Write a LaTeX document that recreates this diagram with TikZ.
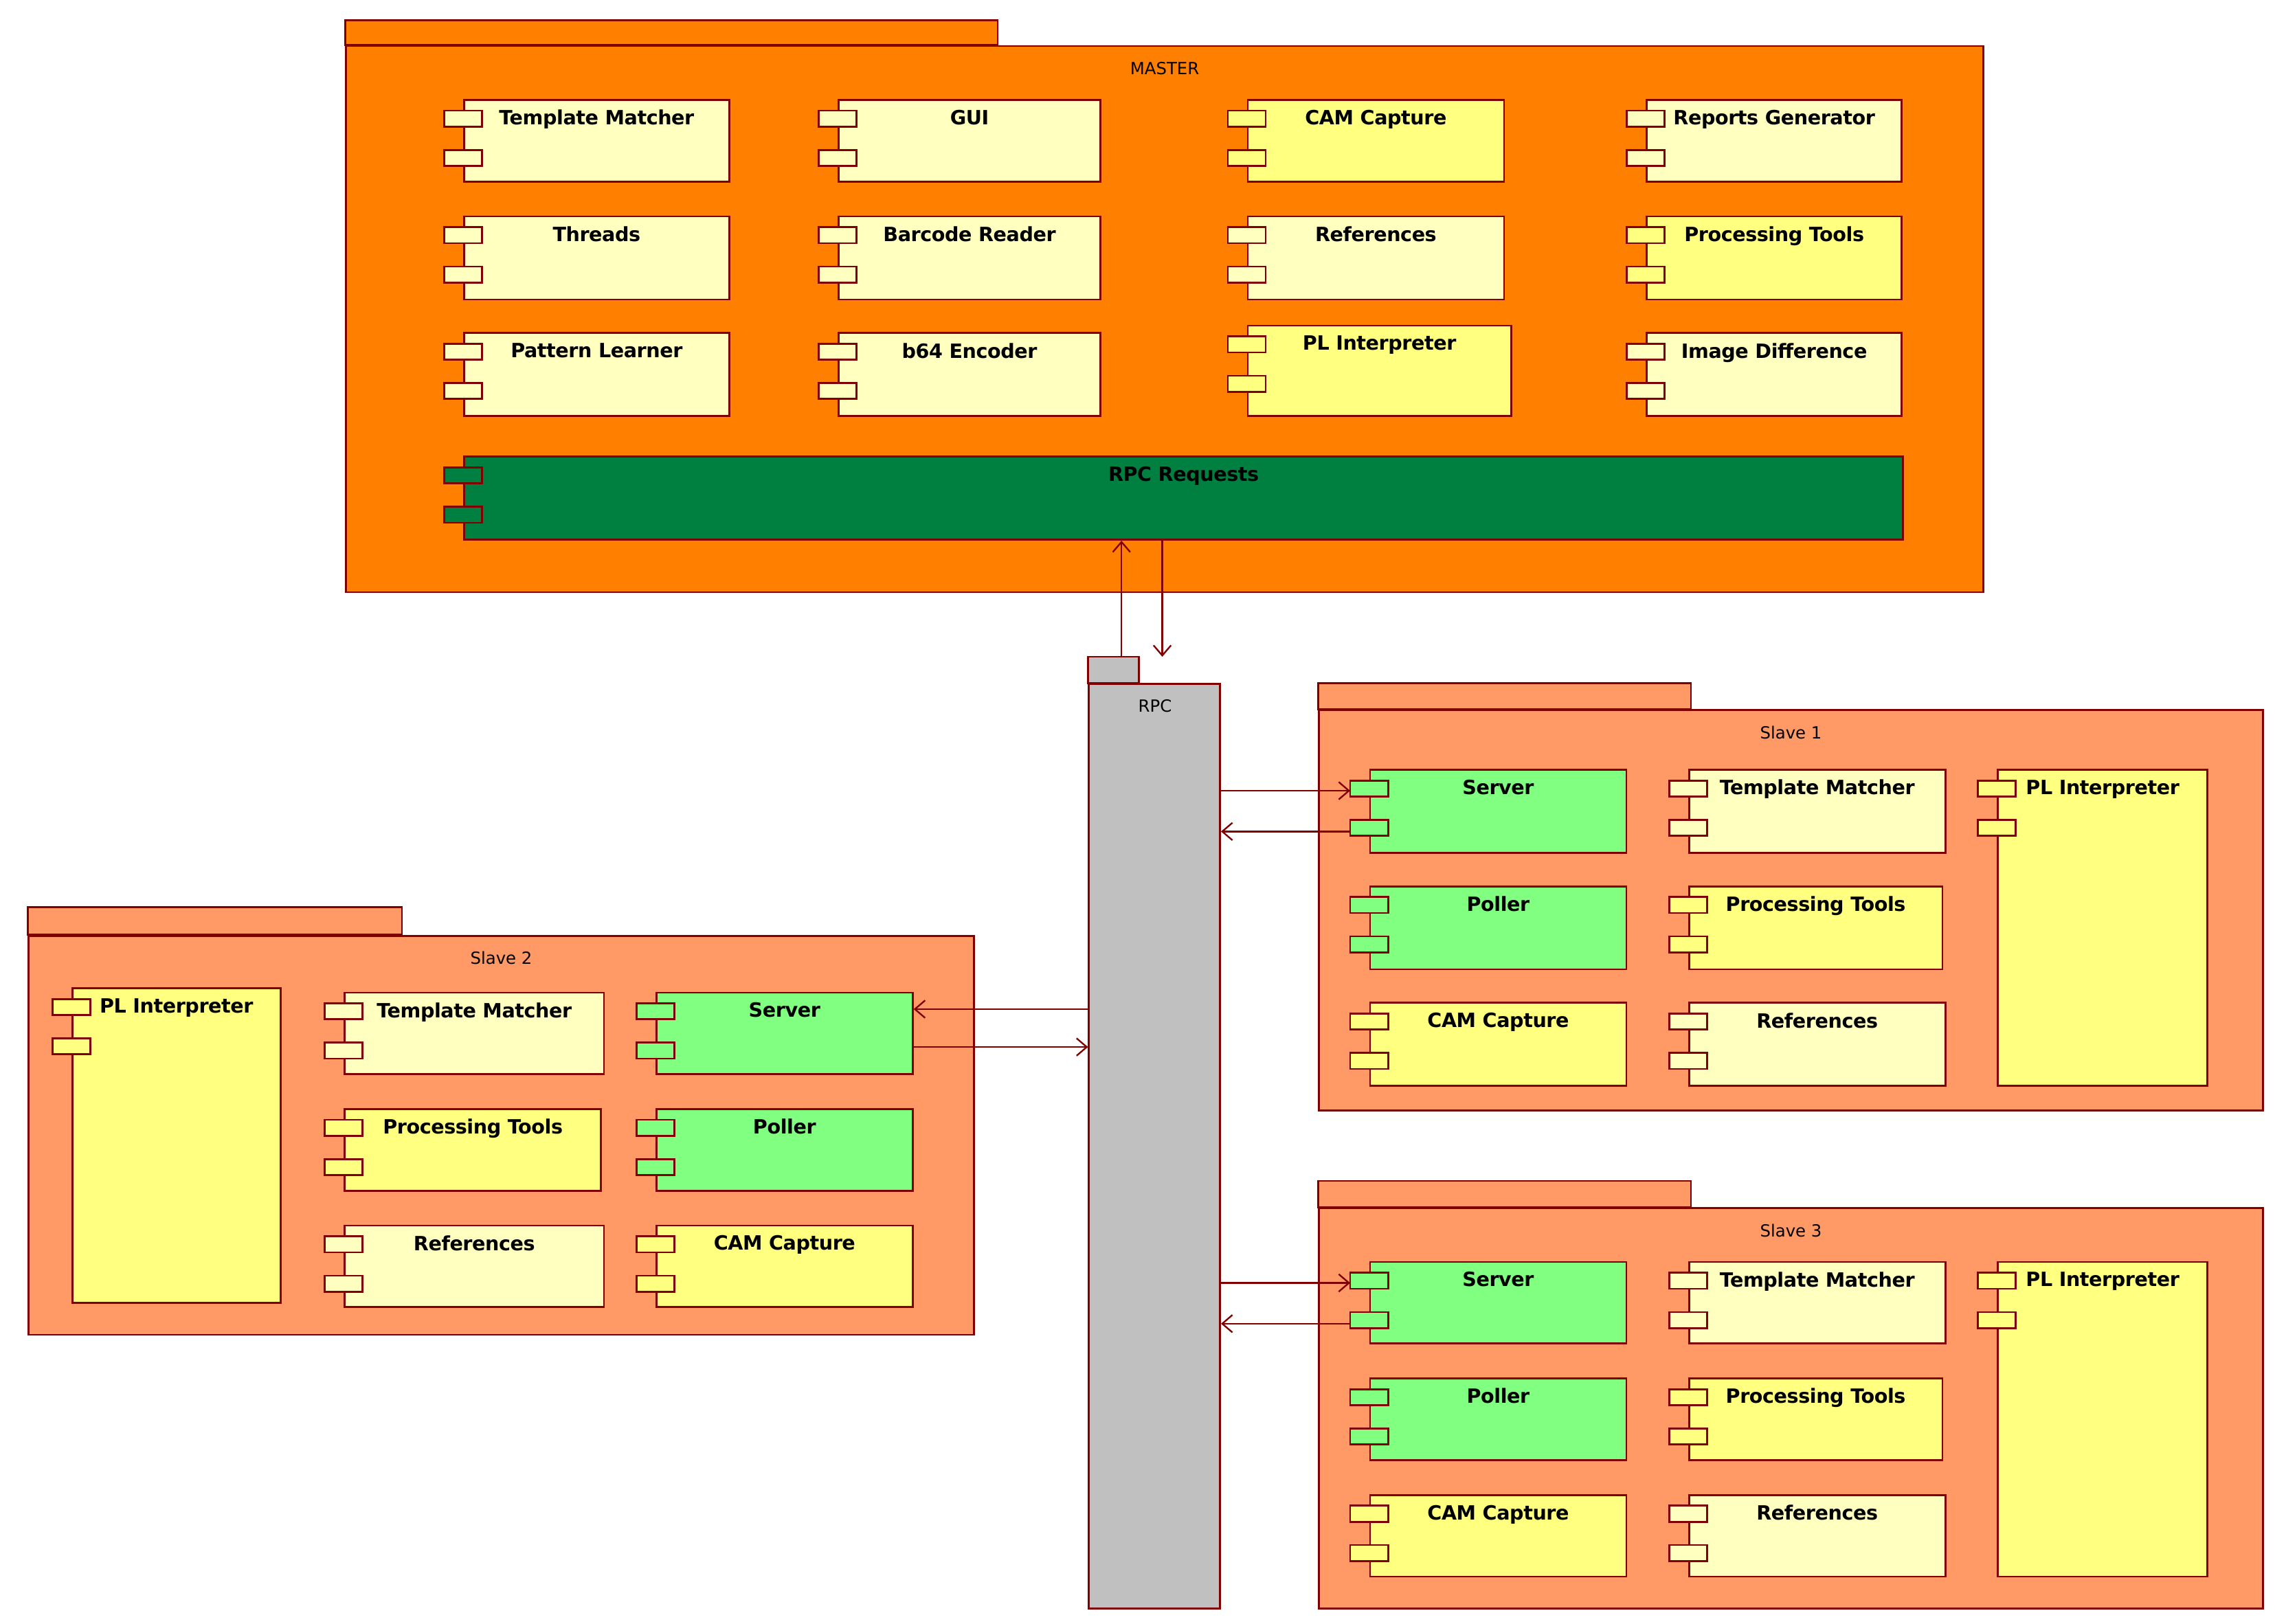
\documentclass[tikz,border=0pt]{standalone}
\usepackage{fontspec}
\setmainfont{DejaVu Sans}
\usetikzlibrary{arrows.meta}
\definecolor{bord}{HTML}{800000}
\definecolor{morange}{HTML}{FF8000}
\definecolor{lightyel}{HTML}{FFFFC0}
\definecolor{yel}{HTML}{FFFF80}
\definecolor{grn}{HTML}{80FF80}
\definecolor{dgrn}{HTML}{008040}
\definecolor{sl}{HTML}{FF9966}
\definecolor{gry}{HTML}{C0C0C0}
\tikzset{
  ln/.style={draw=bord,line width=1.3pt},
  pkglbl/.style={font=\fontsize{11.5}{12}\selectfont,anchor=center},
  lbl/.style={font=\bfseries\fontsize{13.5}{14}\selectfont\addfontfeatures{LetterSpace=-1.5}},
  arr/.style={draw=bord,line width=1.1pt,-{Straight Barb[length=7pt,width=12pt,line width=1.1pt]}},
}
\newcommand\comp[7]{%
  \node[ln,fill=#6,anchor=north west,inner sep=0pt,
    minimum width={(#4-#1-13)*1pt},minimum height={(#5-#2)*1pt},
    label={[lbl,anchor=north,yshift=-4pt]north:#7}] (#3) at ({#1+13},#2) {};
  \draw[ln,fill=#6] (#1,{#2+8}) rectangle ({#1+26},{#2+19});
  \draw[ln,fill=#6] (#1,{#2+35}) rectangle ({#1+26},{#2+46});
}
% name, x1, tabtop, tabright, bodytop, x2, y2, fill, label, labelx
\newcommand\pkg[9]{%
  \draw[ln,fill=#8] (#2,#3) rectangle (#4,#5);
  \node[ln,fill=#8,anchor=north west,inner sep=0pt,
    minimum width={(#6-#2)*1pt},minimum height={(#7-#5)*1pt}] (#1) at (#2,#5) {};
  \node[pkglbl] (#1lbl) at ($(#1.north)+(0,-16pt)$) {#9};
}
\usetikzlibrary{calc}
\begin{document}
\begin{tikzpicture}[x=1pt,y=-1pt]
\useasboundingbox (0,0) rectangle (1562,1115);
% MASTER
\pkg{master}{237}{14}{685}{31}{1361}{406}{morange}{MASTER}
\comp{305}{68}{m1}{500}{124}{lightyel}{Template Matcher}
\comp{562}{68}{m2}{755}{124}{lightyel}{GUI}
\comp{843}{68}{m3}{1032}{124}{yel}{CAM Capture}
\comp{1117}{68}{m4}{1305}{124}{lightyel}{Reports Generator}
\comp{305}{148}{m5}{500}{205}{lightyel}{Threads}
\comp{562}{148}{m6}{755}{205}{lightyel}{Barcode Reader}
\comp{843}{148}{m7}{1032}{205}{lightyel}{References}
\comp{1117}{148}{m8}{1305}{205}{yel}{Processing Tools}
\comp{305}{228}{m9}{500}{285}{lightyel}{Pattern Learner}
\comp{562}{228}{m10}{755}{285}{lightyel}{b64 Encoder}
\comp{843}{223}{m11}{1037}{285}{yel}{PL Interpreter}
\comp{1117}{228}{m12}{1305}{285}{lightyel}{Image Difference}
\comp{305}{313}{rpcreq}{1306}{370}{dgrn}{RPC Requests}
% RPC
\draw[ln,fill=gry] (747,451) rectangle (782,469);
\node[ln,fill=gry,anchor=north west,inner sep=0pt,minimum width=90pt,minimum height=635pt] (rpc) at (747,469) {};
\node[pkglbl] (rpclbl) at (793,485) {RPC};
\coordinate (up1) at (770,451);
\coordinate (dn1) at (798,451);
\draw[arr] (up1) -- (up1 |- rpcreq.south);
\draw[arr] (dn1 |- rpcreq.south) -- (dn1);
% Slave 1
\pkg{s1}{905}{469}{1161}{487}{1553}{762}{sl}{Slave 1}
\comp{927}{528}{s1srv}{1116}{585}{grn}{Server}
\comp{1146}{528}{s1tm}{1335}{585}{lightyel}{Template Matcher}
\comp{1358}{528}{s1pl}{1515}{745}{yel}{PL Interpreter}
\comp{927}{608}{s1pol}{1116}{665}{grn}{Poller}
\comp{1146}{608}{s1pt}{1333}{665}{yel}{Processing Tools}
\comp{927}{688}{s1cam}{1116}{745}{yel}{CAM Capture}
\comp{1146}{688}{s1ref}{1335}{745}{lightyel}{References}
\coordinate (s1a) at ([yshift=-15pt]s1srv.north west);
\coordinate (s1b) at ([yshift=-43pt]s1srv.north west);
\draw[arr] (rpc.east |- s1a) -- ([xshift=-13pt]s1a);
\draw[arr] ([xshift=-13pt]s1b) -- (rpc.east |- s1b);
% Slave 3
\pkg{s3}{905}{811}{1161}{829}{1553}{1104}{sl}{Slave 3}
\comp{927}{866}{s3srv}{1116}{922}{grn}{Server}
\comp{1146}{866}{s3tm}{1335}{922}{lightyel}{Template Matcher}
\comp{1358}{866}{s3pl}{1515}{1082}{yel}{PL Interpreter}
\comp{927}{946}{s3pol}{1116}{1002}{grn}{Poller}
\comp{1146}{946}{s3pt}{1333}{1002}{yel}{Processing Tools}
\comp{927}{1026}{s3cam}{1116}{1082}{yel}{CAM Capture}
\comp{1146}{1026}{s3ref}{1335}{1082}{lightyel}{References}
\coordinate (s3a) at ([yshift=-15pt]s3srv.north west);
\coordinate (s3b) at ([yshift=-43pt]s3srv.north west);
\draw[arr] (rpc.east |- s3a) -- ([xshift=-13pt]s3a);
\draw[arr] ([xshift=-13pt]s3b) -- (rpc.east |- s3b);
% Slave 2
\pkg{s2}{19}{623}{276}{642}{668}{916}{sl}{Slave 2}
\comp{36}{678}{s2pl}{192}{894}{yel}{PL Interpreter}
\comp{223}{681}{s2tm}{414}{737}{lightyel}{Template Matcher}
\comp{437}{681}{s2srv}{626}{737}{grn}{Server}
\comp{223}{761}{s2pt}{412}{817}{yel}{Processing Tools}
\comp{437}{761}{s2pol}{626}{817}{grn}{Poller}
\comp{223}{841}{s2ref}{414}{897}{lightyel}{References}
\comp{437}{841}{s2cam}{626}{897}{yel}{CAM Capture}
\coordinate (s2a) at ([yshift=-12pt]s2srv.north east);
\coordinate (s2b) at ([yshift=-38pt]s2srv.north east);
\draw[arr] (rpc.west |- s2a) -- (s2a);
\draw[arr] (s2b) -- (rpc.west |- s2b);
\end{tikzpicture}
\end{document}
